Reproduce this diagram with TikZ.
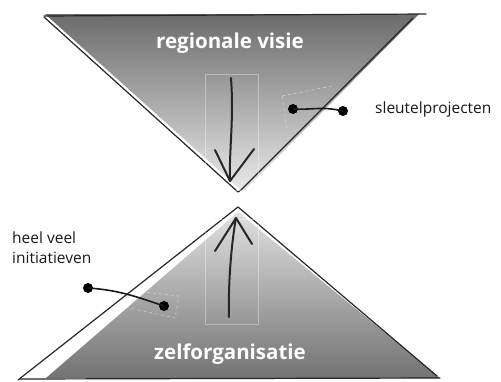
\documentclass[tikz,border=0pt]{standalone}
\usepackage{fontspec}
\setmainfont{Open Sans}
\begin{document}
\begin{tikzpicture}[x=1pt,y=-1pt,
  edge/.style={line width=1.2pt,black!85,line cap=round,line join=round},
  stroke/.style={line width=2pt,black!85,line cap=round,line join=round},
  dotline/.style={line width=1.6pt,black!90},
  blob/.style={circle,fill=black,inner sep=0pt,minimum size=10pt},
  faint/.style={draw=white,draw opacity=0.35,line width=0.5pt},
  faintdash/.style={draw=white,draw opacity=0.5,line width=0.5pt,dashed},
  title/.style={text=white,font=\bfseries\fontsize{20.5}{24}\selectfont,inner sep=0pt},
  label/.style={font=\fontsize{15.5}{20}\selectfont,inner sep=0pt,text=black!90}]
\useasboundingbox (0,0) rectangle (501,381);
% top triangle
\shade[top color=black!58,bottom color=black!8] (45,14) -- (419,14) -- (243,192) -- cycle;
\draw[edge] (44,17) -- (238,192) -- (241,190) -- (413,18);
\draw[edge] (44,16) -- (426,14);
\node[title] (rv) at (230,43) {regionale visie};
% bottom triangle
\shade[top color=black!12,bottom color=black!55] (238,212) -- (440,378) -- (46,378) -- cycle;
\draw[edge] (238,207) -- (18,380);
\draw[edge] (238,207) -- (437,376);
\draw[edge] (20,379) -- (440,378);
\node[title] (zo) at (230,354) {zelforganisatie};
% faint boxes
\draw[faint] (205,74) rectangle (258,190);
\draw[faint] (205,219) rectangle (258,324);
\draw[faintdash] (282,96) -- (332,86);
\draw[faintdash] (282,96) -- (287,128);
\draw[faintdash] (125,305) -- (135,291);
\draw[faintdash] (135,291) -- (179,296) -- (175,318) -- (125,307);
% top arrow
\coordinate (ta) at (231,78);
\coordinate (tb) at (230,181);
\draw[stroke] (ta) .. controls (234,120) and (229,150) .. (tb);
\draw[stroke] (215,150) -- (tb) -- (254,149);
% bottom arrow
\coordinate (ba) at (229,317);
\coordinate (bb) at (236,218);
\draw[stroke] (ba) .. controls (228,280) and (232,240) .. (bb);
\draw[stroke] (215,251) -- (bb) -- (252,244);
% labels
\node[label,anchor=west] (sp) at (375,109) {sleutelprojecten};
\node[blob] (d1) at (293,109) {};
\node[blob] (d2) at (343,111) {};
\draw[dotline] (d1.center) .. controls (315,110) and (320,106) .. (d2.center);
\node[label,anchor=north west,align=left] (hv) at (12,232) {heel veel\\initiatieven};
\node[blob] (d3) at (88,288) {};
\node[blob] (d4) at (164,306) {};
\draw[dotline] (d3.center) .. controls (120,290) and (140,298) .. (d4.center);
\end{tikzpicture}
\end{document}
